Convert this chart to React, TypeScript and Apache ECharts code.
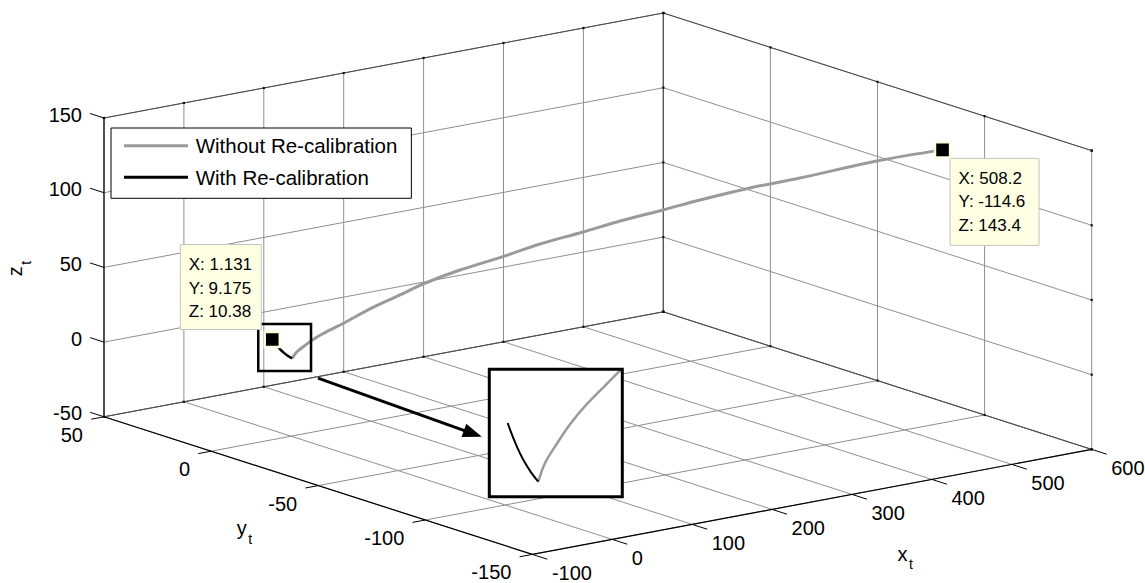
import React, { useEffect, useRef } from "react";
import * as echarts from "echarts";

const W = 1145;
const H = 583;
const FONT = "'Liberation Sans', Arial, Helvetica, sans-serif";

// ---------------- data ----------------
const xTicks = [-100, 0, 100, 200, 300, 400, 500, 600];
const yTicks = [-150, -100, -50, 0, 50];
const zTicks = [-50, 0, 50, 100, 150];

const seriesNames = ["Without Re-calibration", "With Re-calibration"];

// trajectory without re-calibration (grey)
const noRecalX = [12, 15.26, 21.05, 27.54, 35.77, 52.4, 71.5, 94.4, 111.9, 140.1, 172.2, 201.2, 234, 262.2, 295, 323.2, 361.4, 399.5, 458.2, 508.2];
const noRecalY = [4, 3.22, 1.84, 0.29, -1.68, -5.66, -10.2, -15.7, -19.9, -26.6, -34.3, -41.2, -49.1, -55.8, -63.6, -70.4, -79.5, -88.6, -102.6, -114.6];
const noRecalZ = [-1, 3.03, 7.23, 11.51, 15.94, 23.46, 32.7, 42.3, 49.8, 59.4, 68.5, 77.4, 85.8, 93.4, 101.1, 108.1, 116.5, 123.5, 135.5, 143.4];

// trajectory with re-calibration (black)
const recalX = [1.131, 2.49, 3.92, 5.51, 7.29, 9.42, 12];
const recalY = [9.175, 8.53, 7.85, 7.09, 6.24, 5.23, 4];
const recalZ = [10.38, 8.31, 6.32, 4.35, 2.51, 0.71, -1];

// data tips
const tipX = [1.131, 508.2];
const tipY = [9.175, -114.6];
const tipZ = [10.38, 143.4];

// ---------------- layout ----------------
const LIM = { x: [-100, 600], y: [-150, 50], z: [-50, 150] };
const ORIGIN = [104, 118]; // page position of (xmin, ymax, zmax)
const EX = [0.799, -0.15];
const EY = [-2.142, -0.688];
const EZ = [0, -1.494];

function proj(x: number, y: number, z: number): [number, number] {
  const dx = x - LIM.x[0];
  const dy = y - LIM.y[1];
  const dz = z - LIM.z[1];
  return [
    ORIGIN[0] + EX[0] * dx + EY[0] * dy + EZ[0] * dz,
    ORIGIN[1] + EX[1] * dx + EY[1] * dy + EZ[1] * dz,
  ];
}

const GRID = "#8f8f8f";
const EDGE = "#4a4a4a";
const AXIS = "#000000";
const GRAY = "#9a9a9a";
const TIP_BG = "#ffffe3";

const INSET = { x: 489.3, y: 369.3, w: 133, h: 127.4 };
const INSET_SCALE = [1.55, 3.1];
const INSET_ANCHOR = [538.3, 481.7];
const TIP_BOX = [
  { dx: -92, dy: -95, w: 81, h: 85 },
  { dx: 7.5, dy: 8.5, w: 89, h: 87 },
];
const X_TITLE = [902.5, 555.5];
const Y_TITLE = [241.7, 530];
const Z_TITLE = [17.2, 271.3];
const SUB_OFF = [8.5, 10];

function txt(text: string, x: number, y: number, size: number, align: string, vAlign = "middle") {
  return {
    type: "text",
    x,
    y,
    style: {
      text,
      fill: "#000",
      font: `${size}px ${FONT}`,
      align,
      verticalAlign: vAlign,
      textAlign: align,
      textVerticalAlign: vAlign,
    },
  };
}

function buildOption() {
  const grayPts = noRecalX.map((x, i) => proj(x, noRecalY[i], noRecalZ[i]));
  const blackPts = recalX.map((x, i) => proj(x, recalY[i], recalZ[i]));
  const tipPts = tipX.map((x, i) => proj(x, tipY[i], tipZ[i]));

  const anchorMain = blackPts[blackPts.length - 1];
  const inner = { x: INSET.x + 1.5, y: INSET.y + 1.5, w: INSET.w - 3, h: INSET.h - 3 };
  const toMainX = (sx: number) => anchorMain[0] + (sx - INSET_ANCHOR[0]) / INSET_SCALE[0];
  const toMainY = (sy: number) => anchorMain[1] + (sy - INSET_ANCHOR[1]) / INSET_SCALE[1];

  const frameRender = (_params: any, api: any) => {
    const P = (x: number, y: number, z: number) => api.coord(proj(x, y, z));
    const ch: any[] = [];
    const line = (a: number[], b: number[], stroke: string, lw: number) =>
      ch.push({ type: "line", shape: { x1: a[0], y1: a[1], x2: b[0], y2: b[1] }, style: { stroke, lineWidth: lw } });
    const [x0, x1] = LIM.x;
    const [y0, y1] = LIM.y;
    const [z0, z1] = LIM.z;
    for (const x of xTicks) {
      line(P(x, y1, z0), P(x, y1, z1), GRID, 1);
      line(P(x, y0, z0), P(x, y1, z0), GRID, 1);
    }
    for (const y of yTicks) {
      line(P(x1, y, z0), P(x1, y, z1), GRID, 1);
      line(P(x0, y, z0), P(x1, y, z0), GRID, 1);
    }
    for (const z of zTicks) {
      line(P(x0, y1, z), P(x1, y1, z), GRID, 1);
      line(P(x1, y0, z), P(x1, y1, z), GRID, 1);
    }
    line(P(x0, y1, z1), P(x1, y1, z1), EDGE, 1);
    line(P(x1, y1, z1), P(x1, y0, z1), EDGE, 1);
    line(P(x0, y1, z0), P(x1, y1, z0), EDGE, 1);
    line(P(x1, y1, z0), P(x1, y0, z0), EDGE, 1);
    line(P(x1, y1, z0), P(x1, y1, z1), EDGE, 1);
    const dot = (p: number[]) =>
      ch.push({ type: "rect", shape: { x: p[0] - 1.1, y: p[1] - 1.1, width: 2.2, height: 2.2 }, style: { fill: "#111" } });
    for (const x of xTicks) { dot(P(x, y1, z1)); dot(P(x, y1, z0)); }
    for (const y of yTicks) { dot(P(x1, y, z1)); dot(P(x1, y, z0)); }
    for (const z of zTicks) { dot(P(x1, y1, z)); dot(P(x1, y0, z)); }
    // main axes
    line(P(x0, y1, z0), P(x0, y1, z1), AXIS, 1.2);
    line(P(x0, y0, z0), P(x0, y1, z0), AXIS, 1.2);
    line(P(x0, y0, z0), P(x1, y0, z0), AXIS, 1.2);
    for (const x of xTicks) {
      const a = P(x, y0, z0);
      line(a, P(x, y0 - 7, z0), AXIS, 1);
      ch.push(txt(String(x), a[0] + 19.5, a[1] + 18.3, 20, "left"));
    }
    for (const y of yTicks) {
      const a = P(x0, y, z0);
      line(a, P(x0 - 16, y, z0), AXIS, 1);
      ch.push(txt(String(y), a[0] - 21, a[1] + 18, 20, "right"));
    }
    for (const z of zTicks) {
      const a = P(x0, y1, z);
      line(a, P(x0, y1 + 6.5, z), AXIS, 1);
      ch.push(txt(String(z), a[0] - 22, a[1] - 3.5, 20, "right"));
    }
    // axis titles
    const title = (letter: string, pos: number[]) => {
      ch.push(txt(letter, pos[0], pos[1] - 1.8, 20, "center"));
      ch.push(txt("t", pos[0] + SUB_OFF[0], pos[1] + SUB_OFF[1] - 1.3, 14, "center"));
    };
    title("x", X_TITLE);
    title("y", Y_TITLE);
    ch.push({
      type: "group",
      x: Z_TITLE[0],
      y: Z_TITLE[1],
      rotation: Math.PI / 2,
      children: [
        txt("z", 0, -1.8, 20, "center"),
        txt("t", SUB_OFF[0], SUB_OFF[1] - 1.3, 14, "center"),
      ],
    });
    return { type: "group", children: ch };
  };

  const annotRender = (_params: any, api: any) => {
    const pts = blackPts.map((p) => api.coord(p));
    const xs = pts.map((p) => p[0]);
    const ys = pts.map((p) => p[1]);
    const hx0 = Math.min(...xs) - 14;
    const hy0 = Math.min(...ys) - 15.5;
    const hx1 = Math.max(...xs) + 19;
    const hy1 = Math.max(...ys) + 12.6;
    const start = [hx1 + 7, hy1 + 7];
    const tip = [INSET.x - 7.5, INSET.y + 67.5];
    const d = [tip[0] - start[0], tip[1] - start[1]];
    const len = Math.hypot(d[0], d[1]);
    const u = [d[0] / len, d[1] / len];
    const n = [-u[1], u[0]];
    const hl = 19;
    const hw = 7;
    const base = [tip[0] - u[0] * hl, tip[1] - u[1] * hl];
    return {
      type: "group",
      children: [
        { type: "rect", shape: { x: INSET.x, y: INSET.y, width: INSET.w, height: INSET.h }, style: { fill: "#fff" } },
        { type: "rect", shape: { x: hx0, y: hy0, width: hx1 - hx0, height: hy1 - hy0 }, style: { fill: "none", stroke: "#000", lineWidth: 2.5 } },
        { type: "line", shape: { x1: start[0], y1: start[1], x2: base[0] + u[0] * 2, y2: base[1] + u[1] * 2 }, style: { stroke: "#000", lineWidth: 3 } },
        {
          type: "polygon",
          shape: { points: [tip, [base[0] + n[0] * hw, base[1] + n[1] * hw], [base[0] - n[0] * hw, base[1] - n[1] * hw]] },
          style: { fill: "#000" },
        },
      ],
    };
  };

  const overlayRender = (_params: any, api: any) => {
    const ch: any[] = [];
    ch.push({ type: "rect", shape: { x: INSET.x, y: INSET.y, width: INSET.w, height: INSET.h }, style: { fill: "none", stroke: "#000", lineWidth: 3 } });
    tipX.forEach((_v, i) => {
      const p = api.coord(tipPts[i]);
      const b = TIP_BOX[i];
      const bx = p[0] + b.dx;
      const by = p[1] + b.dy;
      ch.push({ type: "rect", shape: { x: bx, y: by, width: b.w, height: b.h }, style: { fill: TIP_BG, stroke: "#c4c4c4", lineWidth: 1 } });
      const lines = [`X: ${tipX[i]}`, `Y: ${tipY[i]}`, `Z: ${tipZ[i]}`];
      lines.forEach((t, k) => ch.push(txt(t, bx + 8.5, by + 20 + 23.5 * k, 17, "left")));
    });
    return { type: "group", children: ch };
  };

  return {
    animation: false,
    backgroundColor: "#ffffff",
    grid: [
      { left: 0, top: 0, width: W, height: H, outerBoundsMode: "none", containLabel: false },
      { left: inner.x, top: inner.y, width: inner.w, height: inner.h, outerBoundsMode: "none", containLabel: false },
    ],
    xAxis: [
      { type: "value", gridIndex: 0, min: 0, max: W, show: false },
      { type: "value", gridIndex: 1, min: toMainX(inner.x), max: toMainX(inner.x + inner.w), show: false },
    ],
    yAxis: [
      { type: "value", gridIndex: 0, min: 0, max: H, inverse: true, show: false },
      { type: "value", gridIndex: 1, min: toMainY(inner.y), max: toMainY(inner.y + inner.h), inverse: true, show: false },
    ],
    legend: {
      data: seriesNames,
      orient: "vertical",
      left: 111,
      top: 128,
      itemWidth: 64,
      itemHeight: 3,
      icon: "rect",
      itemGap: 9.6,
      padding: [6.7, 14, 10, 13],
      backgroundColor: "#fff",
      borderColor: "#000",
      borderWidth: 1,
      borderRadius: 0,
      selectedMode: false,
      textStyle: { fontFamily: FONT, fontSize: 20.5, color: "#000", lineHeight: 22, padding: [0, 0, 0, 2.7] },
      z: 10,
    },
    series: [
      { type: "custom", name: "frame", xAxisIndex: 0, yAxisIndex: 0, data: [[0, 0]], renderItem: frameRender, z: 1, silent: true },
      {
        type: "line", name: seriesNames[0], xAxisIndex: 0, yAxisIndex: 0, data: grayPts, symbol: "none", showSymbol: false, smooth: 0.35,
        lineStyle: { color: GRAY, width: 3 }, itemStyle: { color: GRAY }, z: 2, silent: true,
      },
      {
        type: "line", name: seriesNames[1], xAxisIndex: 0, yAxisIndex: 0, data: blackPts, symbol: "none", showSymbol: false, smooth: 0.35,
        lineStyle: { color: "#000", width: 2.5 }, itemStyle: { color: "#000" }, z: 2, silent: true,
      },
      { type: "custom", name: "annot", xAxisIndex: 0, yAxisIndex: 0, data: [[0, 0]], renderItem: annotRender, z: 3, silent: true },
      {
        type: "line", name: "inset-gray", xAxisIndex: 1, yAxisIndex: 1, data: grayPts, symbol: "none", showSymbol: false, clip: true, smooth: 0.35,
        lineStyle: { color: GRAY, width: 2.5 }, itemStyle: { color: GRAY }, z: 4, silent: true,
      },
      {
        type: "line", name: "inset-black", xAxisIndex: 1, yAxisIndex: 1, data: blackPts, symbol: "none", showSymbol: false, clip: true, smooth: 0.35,
        lineStyle: { color: "#000", width: 2 }, itemStyle: { color: "#000" }, z: 4, silent: true,
      },
      { type: "custom", name: "overlay", xAxisIndex: 0, yAxisIndex: 0, data: [[0, 0]], renderItem: overlayRender, z: 5, silent: true },
      {
        type: "scatter", name: "tips", xAxisIndex: 0, yAxisIndex: 0, data: tipPts, symbol: "rect", symbolSize: 15,
        itemStyle: { color: "#000", borderColor: "#ffffe1", borderWidth: 2.4, opacity: 1 }, z: 6, silent: true,
      },
    ],
  };
}

export default function App() {
  const ref = useRef<HTMLDivElement>(null);
  useEffect(() => {
    if (!ref.current) return;
    const chart = echarts.init(ref.current, null, { renderer: "svg" });
    chart.setOption(buildOption() as any);
    return () => chart.dispose();
  }, []);
  return (
    <div
      ref={ref}
      style={{ position: "fixed", left: 0, top: 0, width: W, height: H, background: "#fff" }}
    />
  );
}
